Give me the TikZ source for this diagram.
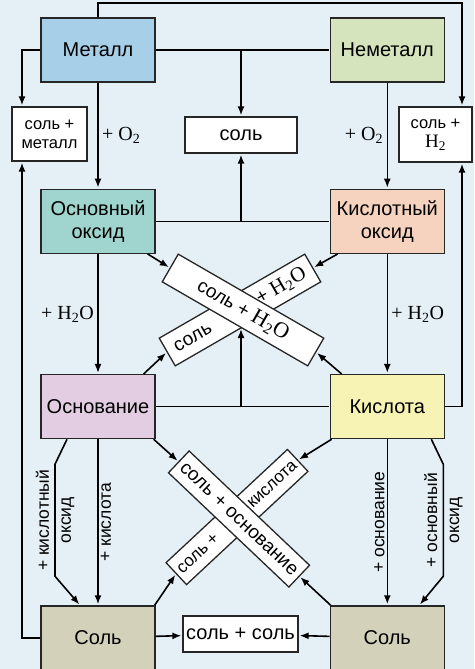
\documentclass[tikz,border=0pt]{standalone}
\usepackage{fontspec}
\setmainfont{Liberation Sans}
\newfontfamily\formula{Liberation Serif}
\usetikzlibrary{arrows.meta,positioning}

\definecolor{bgblue}{RGB}{229,240,246}
\definecolor{metblue}{RGB}{168,207,232}
\definecolor{nemgreen}{RGB}{213,228,189}
\definecolor{oxteal}{RGB}{160,213,207}
\definecolor{oxpeach}{RGB}{246,211,191}
\definecolor{baselilac}{RGB}{226,205,227}
\definecolor{acidyellow}{RGB}{246,243,181}
\definecolor{saltkhaki}{RGB}{212,209,187}

\begin{document}
\begin{tikzpicture}[
    x = 1pt, y = -1pt, % picture units, y going down
    > = {Latex[length=9pt,width=7pt]}, % arrow head style
    shorten > = 1pt, % don't touch arrow head to node
    line width = 1.6pt, % line style
    node distance = 174pt % distance between columns
    ]

    \tikzset{
    box/.style = {draw = black!85, line width = 1.3pt, minimum width = 114pt,
        minimum height = 64pt, align = center, inner sep = 0pt,
        font = \fontsize{20}{23}\selectfont},
    res/.style = {draw = black!85, line width = 1.3pt, fill = white,
        align = center, inner sep = 0pt},
    xbox/.style = {res, minimum width = 168pt, minimum height = 32pt,
        font = \fontsize{19}{20}\selectfont},
    lbl/.style = {font = \formula\fontsize{20}{22}\selectfont},
    sidelbl/.style = {rotate = 90, align = center, inner sep = 2pt,
        font = \fontsize{17.5}{22}\selectfont}
    }

    \path[use as bounding box, fill = bgblue] (0,0) rectangle (474,669);

    % substance boxes
    \node[box, fill = metblue] (met) at (98,50) {Металл};
    \node[box, fill = nemgreen] (nemet) [right=of met] {Неметалл};
    \node[box, fill = oxteal] (osnoks) [below=106pt of met] {Основный\\оксид};
    \node[box, fill = oxpeach] (kisoks) [right=of osnoks] {Кислотный\\оксид};
    \node[box, fill = baselilac] (osnov) [below=120pt of osnoks] {Основание};
    \node[box, fill = acidyellow] (kisl) [right=of osnov] {Кислота};
    \node[box, fill = saltkhaki] (sol1) [below=166pt of osnov] {Соль};
    \node[box, fill = saltkhaki] (sol2) [right=of sol1] {Соль};

    % products
    \node[res, minimum width = 75pt, minimum height = 54pt,
        font = \fontsize{16.5}{19}\selectfont] (saltmet) at (49.5,134) {соль +\\металл};
    \node[res, minimum width = 112pt, minimum height = 36pt,
        font = \fontsize{20}{23}\selectfont] (salt) at (241,135) {соль};
    \node[res, minimum width = 73pt, minimum height = 55pt,
        font = \fontsize{16.5}{19}\selectfont] (salth) at (435.5,134.5)
        {соль +\\{\formula\fontsize{19}{19}\selectfont H\textsubscript{2}}};
    \node[res, minimum width = 115pt, minimum height = 36pt,
        font = \fontsize{20}{23}\selectfont] (saltsalt) at (240.5,634) {соль + соль};

    \node[xbox, rotate = 30] (xup2) at (240,310)
        {\makebox[150pt]{соль\hfill+ {\formula\fontsize{21}{21}\selectfont H\textsubscript{2}O}}};
    \node[xbox, rotate = -30] (xup1) at (243,310)
        {соль + {\formula\fontsize{22}{22}\selectfont H\textsubscript{2}O}};
    \node[xbox, rotate = 43, minimum width = 166pt, minimum height = 30pt,
        font = \fontsize{17}{20}\selectfont] (xlow2)
        at (237,517) {\makebox[158pt]{соль +\hfill кислота}};
    \node[xbox, rotate = -43.5, minimum width = 166pt, minimum height = 30pt] (xlow1)
        at (239,519) {соль + основание};

    \coordinate (lft) at (22,3);
    \coordinate (rgt) at (462,3);
    \coordinate (xbot) at (241,328);

    % outer frame lines
    \draw[->] (met.north) |- (rgt) -- (rgt |- salth.north);
    \draw[->] (met.west) -| (lft |- saltmet.north);
    \draw[->] (sol1.west) -| (lft |- saltmet.south);
    \draw[->] (kisl.east) -| (rgt |- salth.south);

    % middle column
    \draw (met) -- (nemet);
    \draw[->] (met -| salt) -- (salt);
    \draw (osnoks) -- (kisoks);
    \draw[->] (osnoks -| salt) -- (salt);
    \draw (osnov) -- (kisl);
    \draw[->] (osnov -| salt) -- (xbot);
    \draw[->] (sol1) -- (saltsalt);
    \draw[->] (sol2) -- (saltsalt);

    \draw[->] (met) -- node[lbl, right] {+ O\textsubscript{2}} (osnoks);
    \draw[->] (nemet) -- node[lbl, left] {+ O\textsubscript{2}} (kisoks);
    \draw[->] (osnoks) -- node[lbl, left] {+ H\textsubscript{2}O} (osnov);
    \draw[->] (kisoks) -- node[lbl, right] {+ H\textsubscript{2}O} (kisl);

    % into the crosses
    \draw[->] ([xshift=-8pt]osnoks.south east) -- (xup1.west);
    \draw[->] ([xshift=8pt]kisoks.south west) -- (xup2.east);
    \draw[->] ([xshift=-12pt]osnov.north east) -- (xup2.west);
    \draw[->] ([xshift=12pt]kisl.north west) -- (xup1.east);
    \draw[->] ([xshift=-2pt]osnov.south east) -- (xlow1.west);
    \draw[->] ([xshift=2pt]kisl.south west) -- (xlow2.east);
    \draw[->] ([xshift=-1pt]sol1.north east) -- (xlow2.west);
    \draw[->] ([xshift=1pt]sol2.north west) -- (xlow1.east);

    % down to the salts
    \draw[->] (osnov) -- node[sidelbl, anchor=north] {+ кислота} (sol1);
    \draw[->] (kisl) -- node[sidelbl, anchor=south] {+ основание} (sol2);
    \draw[->] ([xshift=-31pt]osnov.south) -- ++(-12,25) -- ++(0,112)
        node[midway, sidelbl] {+ кислотный\\оксид} -- ([xshift=-18pt]sol1.north);
    \draw[->] ([xshift=44pt]kisl.south) -- ++(12,25) -- ++(0,112)
        node[midway, sidelbl] {+ основный\\оксид} -- ([xshift=32pt]sol2.north);
\end{tikzpicture}
\end{document}
